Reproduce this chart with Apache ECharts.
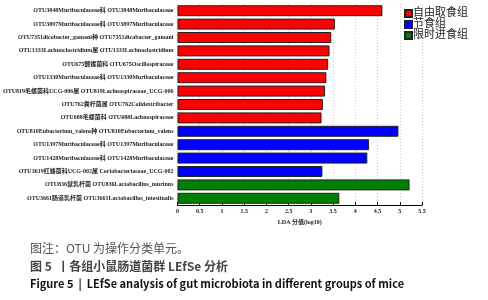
<!DOCTYPE html>
<html>
<head>
<meta charset="utf-8">
<script src="https://cdn.jsdelivr.net/npm/echarts@6/dist/echarts.min.js"></script>
<style>
  html, body { margin: 0; padding: 0; background: #fff; }
  #main { width: 488px; height: 300px; }
</style>
</head>
<body>
<div id="main"></div>
<script>
// OTU labels, top to bottom
const otus = [
  "OTU3848Muribaculaceae科 OTU3848Muribaculaceae",
  "OTU3897Muribaculaceae科 OTU3897Muribaculaceae",
  "OTU7351dicobacter_gamani种 OTU7351dicobacter_gamani",
  "OTU1333Lachnoclostridium属 OTU1333Lachnoclostridium",
  "OTU675颤螺菌科 OTU675Oscillospiraceae",
  "OTU1330Muribaculaceae科 OTU1330Muribaculaceae",
  "OTU819毛螺菌科UCG-006属 OTU819Lachnospiraceae_UCG-006",
  "OTU762粪杆菌属 OTU762Colidextribacter",
  "OTU688毛螺菌科 OTU688Lachnospiraceae",
  "OTU810Eubacterium_valens种 OTU810Eubacterium_valens",
  "OTU1397Muribaculaceae科 OTU1397Muribaculaceae",
  "OTU1428Muribaculaceae科 OTU1428Muribaculaceae",
  "OTU3619红蝽菌科UCG-002属 Coriobacteriaceae_UCG-002",
  "OTU836鼠乳杆菌 OTU836Lactobacillus_murinus",
  "OTU3661肠道乳杆菌 OTU3661Lactobacillus_intestinalis"
];

const groups = ["自由取食组", "节食组", "限时进食组"];
const groupColors = ["#ff0000", "#0000ff", "#008000"];

// LDA scores, '-' where the OTU belongs to another group
const freeFeeding = [4.61, 3.54, 3.46, 3.42, 3.39, 3.35, 3.32, 3.27, 3.24, '-', '-', '-', '-', '-', '-'];
const dieting     = ['-', '-', '-', '-', '-', '-', '-', '-', '-', 4.97, 4.31, 4.27, 3.26, '-', '-'];
const timeLimited = ['-', '-', '-', '-', '-', '-', '-', '-', '-', '-', '-', '-', '-', 5.22, 3.64];

const xTicks = ["0", "0.5", "1", "1.5", "2", "2.5", "3", "3.5", "4", "4.5", "5", "5.5"];

const serif = "'Liberation Serif', 'Noto Sans CJK SC', serif";
const sans = "'Noto Sans CJK SC', 'Noto Sans', sans-serif";

const chart = echarts.init(document.getElementById("main"));

const series = [freeFeeding, dieting, timeLimited].map((vals, i) => ({
  name: groups[i],
  type: "bar",
  stack: "lda",
  data: vals,
  barCategoryGap: "18%",
  itemStyle: { color: groupColors[i], borderColor: "#222", borderWidth: 1 }
}));

chart.setOption({
  animation: false,
  grid: { left: 177, right: 66, top: 4, bottom: 95 },
  legend: {
    data: groups,
    orient: "vertical",
    left: 399,
    top: 3,
    itemWidth: 7,
    itemHeight: 7,
    itemGap: 0,
    icon: "rect",
    textStyle: { fontFamily: serif, fontSize: 11, lineHeight: 11, color: "#222", padding: [0, 0, 0, -4] }
  },
  xAxis: {
    type: "value",
    min: 0,
    max: 5.5,
    interval: 0.5,
    name: "LDA 分值(log10)",
    nameLocation: "middle",
    nameGap: 14,
    nameTextStyle: { fontFamily: serif, fontSize: 6, color: "#222", fontWeight: "bold" },
    axisLine: { show: true, lineStyle: { color: "#000", width: 1 } },
    axisTick: { show: true, inside: true, length: 3, lineStyle: { color: "#000" } },
    axisLabel: {
      margin: 3,
      fontFamily: serif,
      fontSize: 6,
      fontWeight: "bold",
      color: "#222",
      formatter: (v) => xTicks[Math.round(v * 2)]
    },
    splitLine: { show: true, lineStyle: { color: "#ccc", type: [1, 2], width: 1 } }
  },
  yAxis: {
    type: "category",
    data: otus,
    inverse: true,
    axisLine: { show: false },
    axisTick: { show: false },
    axisLabel: { margin: 4, fontFamily: serif, fontSize: 6, color: "#222", fontWeight: "bold" }
  },
  series: series,
  graphic: [
    {
      type: "text", left: 30, top: 242,
      style: { text: "图注：OTU 为操作分类单元。", font: "12px " + sans, fill: "#555" }
    },
    {
      type: "text", left: 30, top: 260,
      style: { text: "图 5  丨各组小鼠肠道菌群 LEfSe 分析", font: "bold 12px " + sans, fill: "#444" }
    },
    {
      type: "text", left: 30, top: 278,
      style: { text: "Figure 5  |  LEfSe analysis of gut microbiota in different groups of mice", font: "bold 11px " + sans, fill: "#111" }
    }
  ]
});
</script>
</body>
</html>
